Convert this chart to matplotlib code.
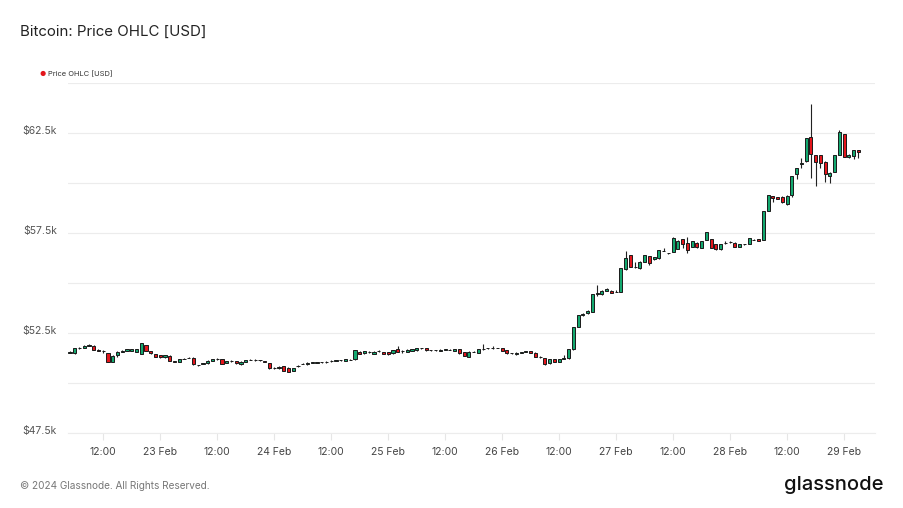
import matplotlib
matplotlib.use("Agg")
import matplotlib.pyplot as plt
import matplotlib.dates as mdates
import matplotlib.transforms as mtransforms
import numpy as np
import pandas as pd

start_time = "2024-02-22 05:00"

opens = [51520, 51480, 51730, 51760, 51850, 51870, 51650, 51620, 51480, 51070,
         51400, 51560, 51620, 51600, 51550, 51450, 51900, 51600, 51450, 51380,
         51280, 51370, 51080, 51070, 51200, 51270, 51270, 50900, 50950, 50980,
         51100, 51200, 51200, 51000, 51100, 51100, 50950, 51070, 51150, 51150,
         51140, 51100, 50980, 50760, 50730, 50850, 50770, 50600, 50850, 50960,
         50930, 51020, 51000, 51030, 51050, 51080, 51100, 51140, 51120, 51160,
         51180, 51570, 51480, 51530, 51450, 51590, 51530, 51530, 51480, 51700,
         51600, 51570, 51600, 51630, 51730, 51730, 51630, 51640, 51600, 51670,
         51660, 51600, 51700, 51550, 51320, 51550, 51520, 51680, 51730, 51730,
         51750, 51730, 51650, 51480, 51430, 51520, 51570, 51600, 51520, 51320,
         51230, 50980, 51180, 51070, 51220, 51230, 51680, 52820, 53400, 53480,
         53570, 54450, 54430, 54620, 54620, 54550, 54570, 55680, 56400, 55820,
         55730, 56070, 56350, 56180, 56230, 56600, 56480, 56570, 56700, 57180,
         57020, 56820, 57020, 56770, 57150, 57200, 56930, 56680, 57000, 57040,
         57020, 56820, 56930, 56950, 57150, 57180, 57150, 58600, 59330, 59300,
         59320, 58930, 59400, 60450, 60950, 61120, 62280, 61400, 61400, 61070,
         60370, 60570, 61400, 62450, 61320, 61350, 61650]

highs = [51600, 51750, 51800, 51880, 51930, 51900, 51680, 51650, 51500, 51390,
         51590, 51650, 51720, 51700, 51720, 52000, 51920, 51620, 51470, 51400,
         51420, 51390, 51110, 51200, 51240, 51300, 51290, 50920, 51000, 51130,
         51220, 51250, 51220, 51120, 51140, 51120, 51090, 51170, 51180, 51190,
         51160, 51120, 51000, 50800, 50840, 50870, 50790, 50770, 50880, 50990,
         51040, 51060, 51050, 51070, 51080, 51130, 51170, 51160, 51200, 51180,
         51670, 51590, 51620, 51590, 51590, 51670, 51550, 51550, 51650, 51870,
         51630, 51690, 51700, 51750, 51760, 51750, 51660, 51670, 51690, 51700,
         51690, 51720, 51720, 51570, 51590, 51580, 51700, 51950, 51760, 51850,
         51770, 51750, 51670, 51500, 51540, 51540, 51590, 51620, 51540, 51340,
         51250, 51200, 51200, 51200, 51400, 51700, 52800, 53420, 53500, 53640,
         54470, 54900, 54640, 54750, 54640, 54650, 55750, 56600, 56420, 56070,
         56090, 56420, 56370, 56300, 56670, 56730, 56510, 57320, 57140, 57200,
         57320, 57120, 57040, 57120, 57550, 57220, 56950, 56970, 57100, 57100,
         57040, 56950, 56960, 57250, 57180, 57200, 58620, 59420, 59370, 59320,
         59340, 59390, 60370, 60750, 61270, 62250, 63930, 61420, 61420, 61090,
         60540, 61420, 62670, 62470, 61440, 61670, 61670]

lows = [51500, 51470, 51700, 51740, 51830, 51630, 51600, 51480, 51050, 51050,
        51320, 51540, 51600, 51580, 51530, 51440, 51580, 51460, 51300, 51260,
        51260, 51080, 51040, 51050, 51180, 51240, 50910, 50850, 50930, 50960,
        51080, 51170, 50950, 50980, 51060, 50960, 50920, 51050, 51130, 51110,
        51110, 51050, 50710, 50720, 50710, 50580, 50550, 50580, 50820, 50940,
        50910, 51000, 50980, 51010, 51020, 51060, 51080, 51110, 51100, 51130,
        51160, 51430, 51460, 51510, 51430, 51560, 51430, 51410, 51460, 51550,
        51480, 51550, 51580, 51610, 51700, 51610, 51600, 51610, 51580, 51650,
        51640, 51580, 51460, 51350, 51300, 51530, 51500, 51660, 51710, 51710,
        51730, 51600, 51460, 51460, 51410, 51500, 51550, 51500, 51300, 51250,
        50910, 50960, 51050, 51050, 51200, 51210, 51660, 52800, 53350, 53460,
        53550, 54350, 54410, 54600, 54500, 54530, 54550, 55660, 55800, 55770,
        55710, 56050, 55900, 56160, 56210, 56580, 56460, 56550, 56680, 56730,
        56480, 56800, 56760, 56750, 57130, 56750, 56660, 56660, 56950, 57000,
        56800, 56800, 56910, 56930, 57130, 57080, 57130, 58580, 59050, 59180,
        59010, 58910, 59320, 60200, 60770, 61070, 60270, 59870, 60770, 60030,
        59980, 60550, 61380, 61300, 61230, 61200, 61230]

closes = [51540, 51730, 51760, 51850, 51900, 51650, 51620, 51600, 51070, 51370,
          51570, 51620, 51700, 51680, 51700, 51980, 51600, 51480, 51320, 51280,
          51400, 51100, 51060, 51180, 51210, 51260, 50930, 50890, 50980, 51100,
          51200, 51210, 50970, 51100, 51110, 50980, 51070, 51150, 51160, 51140,
          51130, 51070, 50730, 50770, 50820, 50600, 50570, 50750, 50860, 50970,
          51020, 51040, 51030, 51050, 51040, 51110, 51150, 51130, 51180, 51150,
          51650, 51450, 51600, 51570, 51570, 51600, 51450, 51430, 51630, 51570,
          51610, 51670, 51680, 51730, 51740, 51630, 51640, 51630, 51670, 51680,
          51650, 51700, 51480, 51360, 51570, 51560, 51680, 51690, 51740, 51740,
          51760, 51620, 51480, 51490, 51520, 51530, 51580, 51520, 51320, 51310,
          50930, 51180, 51070, 51180, 51230, 51680, 52780, 53400, 53450, 53620,
          54450, 54520, 54620, 54680, 54520, 54570, 55730, 56230, 55820, 55800,
          56070, 56400, 56020, 56280, 56650, 56620, 56490, 57230, 57120, 56930,
          56650, 57100, 56780, 57100, 57530, 56770, 56680, 56950, 57020, 57050,
          56820, 56930, 56940, 57230, 57160, 57100, 58600, 59400, 59250, 59200,
          59030, 59370, 60350, 60730, 61000, 62230, 61430, 61070, 60980, 60450,
          60520, 61400, 62570, 61320, 61420, 61650, 61530]

y_ticks = [47500, 50000, 52500, 55000, 57500, 60000, 62500, 65000]
y_labels = ["$47.5k", "", "$52.5k", "", "$57.5k", "", "$62.5k", ""]

title = "Bitcoin: Price OHLC [USD]"
legend_label = "Price OHLC [USD]"
footer = "\u00a9 2024 Glassnode. All Rights Reserved."
brand = "glassnode"

GREEN = "#13a86f"
RED = "#e3161c"

plt.rcParams['font.family'] = ['Inter', 'DejaVu Sans']

times = pd.date_range(start_time, periods=len(closes), freq="h")
xd = mdates.date2num(times.to_pydatetime())
o = np.array(opens, float)
h = np.array(highs, float)
l = np.array(lows, float)
c = np.array(closes, float)

fig = plt.figure(figsize=(9.04, 5.08), dpi=100)
ax = fig.add_axes([68 / 904, 1 - 433 / 508, (875 - 68) / 904, (433 - 83) / 508])

width = 0.66 / 24
colors = [GREEN if cc >= oo else RED for oo, cc in zip(o, c)]
ax.vlines(xd, l, h, color="#222222", linewidth=0.8, zorder=2)
ax.bar(xd, np.abs(c - o), bottom=np.minimum(o, c), width=width, color=colors,
       edgecolor="#1a1a1a", linewidth=0.7, zorder=3)

ax.set_ylim(47500, 65000)
x0 = mdates.date2num(pd.Timestamp("2024-02-22 04:35").to_pydatetime())
x1 = mdates.date2num(pd.Timestamp("2024-02-29 06:30").to_pydatetime())
ax.set_xlim(x0, x1)

ax.set_yticks(y_ticks)
ax.set_yticklabels(y_labels)
ax.grid(axis="y", color="#ececec", linewidth=0.8, zorder=0)
ax.tick_params(axis="y", length=0, pad=8, labelsize=7.5, labelcolor="#555555")
off = mtransforms.ScaledTranslation(0, 3 / 100, fig.dpi_scale_trans)
for lab in ax.get_yticklabels():
    lab.set_transform(lab.get_transform() + off)

ax.xaxis.set_major_locator(mdates.HourLocator(byhour=[0, 12]))
def fmt(x, pos=None):
    d = mdates.num2date(x)
    if d.hour == 0:
        return f"{d.day} Feb"
    return d.strftime("%H:%M")
ax.xaxis.set_major_formatter(plt.FuncFormatter(fmt))
ax.tick_params(axis="x", length=5, width=0.8, color="#e6e6e6", labelsize=7.5,
               labelcolor="#444444", pad=5)

for s in ["top", "right", "left"]:
    ax.spines[s].set_visible(False)
ax.spines["bottom"].set_color("#ececec")
ax.spines["bottom"].set_linewidth(0.8)

fig.text(20 / 904, 1 - 32 / 508, title, fontsize=10.8, color="#222222",
         va="center", ha="left")
fig.text(43 / 904, 1 - 74 / 508, "\u25cf", fontsize=5, color="#e3161c",
         va="center", ha="center")
fig.text(48 / 904, 1 - 74 / 508, legend_label, fontsize=5.4, color="#333333",
         va="center", ha="left")
fig.text(20 / 904, 1 - 486 / 508, footer, fontsize=7.2, color="#777777",
         va="center", ha="left")
fig.text(884 / 904, 1 - 485 / 508, brand, fontsize=14.5, color="#111111",
         va="center", ha="right", fontweight="medium")

fig.savefig("out.png", dpi=100, facecolor="white")
